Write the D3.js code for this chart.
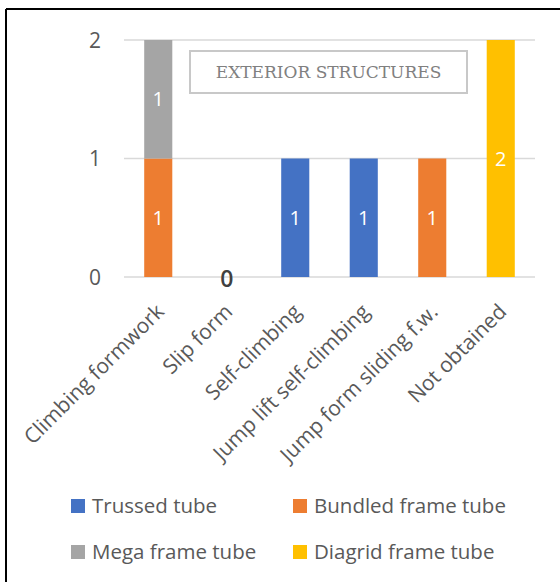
<!DOCTYPE html>
<html><head><meta charset="utf-8">
<script src="https://cdn.jsdelivr.net/npm/d3@7"></script>
<style>html,body{margin:0;padding:0;background:#fff;} svg{display:block;}</style>
</head><body>
<script>
const categories = ["Climbing formwork","Slip form","Self-climbing","Jump lift self-climbing","Jump form sliding f.w.","Not obtained"];
const seriesNames = ["Trussed tube","Bundled frame tube","Mega frame tube","Diagrid frame tube"];
const trussed = [0,0,1,1,0,0];
const bundled = [1,0,0,0,1,0];
const mega = [1,0,0,0,0,0];
const diagrid = [0,0,0,0,0,2];
const yTicks = [0,1,2];
const title = "EXTERIOR STRUCTURES";
const colors = ["#4472C4","#ED7D31","#A5A5A5","#FFC000"];

const W = 560, H = 582;
const svg = d3.select("body").append("svg").attr("width",W).attr("height",H);
svg.append("rect").attr("width",W).attr("height",H).attr("fill","#fff");

const font = "'Open Sans', sans-serif";
const rows = categories.map((c,i)=>({cat:c, "Trussed tube":trussed[i], "Bundled frame tube":bundled[i], "Mega frame tube":mega[i], "Diagrid frame tube":diagrid[i]}));
const stack = d3.stack().keys(seriesNames)(rows);

const x = d3.scaleBand().domain(categories).range([124,535]).paddingInner(0.59).paddingOuter(0.295);
const y = d3.scaleLinear().domain([0,2]).range([277,40]);

// grid
svg.append("g").selectAll("line").data(yTicks).join("line")
  .attr("x1",124).attr("x2",535).attr("y1",d=>y(d)).attr("y2",d=>y(d))
  .attr("stroke","#d9d9d9").attr("stroke-width",1.5);

// y labels
svg.append("g").selectAll("text").data(yTicks).join("text")
  .attr("x",101).attr("y",d=>y(d)).attr("dy","0.36em").attr("text-anchor","end")
  .attr("font-family",font).attr("font-size",21).attr("fill","#595959").text(d=>d);

// bars
const g = svg.append("g");
stack.forEach((s,si)=>{
  g.append("g").selectAll("rect").data(s.filter(d=>d[1]-d[0]>0)).join("rect")
    .attr("x",d=>x(d.data.cat)).attr("width",x.bandwidth())
    .attr("y",d=>y(d[1])).attr("height",d=>y(d[0])-y(d[1]))
    .attr("fill",colors[si]);
  g.append("g").selectAll("text").data(s.filter(d=>d[1]-d[0]>0)).join("text")
    .attr("x",d=>x(d.data.cat)+x.bandwidth()/2).attr("y",d=>(y(d[0])+y(d[1]))/2)
    .attr("dy","0.36em").attr("text-anchor","middle")
    .attr("font-family",font).attr("font-size",20).attr("fill","#fff")
    .text(d=>d[1]-d[0]);
});
// zero-total labels
const totals = rows.map(r=>seriesNames.reduce((a,k)=>a+r[k],0));
svg.append("g").selectAll("text").data(categories.filter((c,i)=>totals[i]===0)).join("text")
  .attr("x",c=>x(c)+x.bandwidth()/2).attr("y",y(0)+1.5).attr("dy","0.36em").attr("text-anchor","middle")
  .attr("font-family",font).attr("font-size",23).attr("font-weight",600).attr("fill","#404040").text(0);

// x labels
svg.append("g").selectAll("text").data(categories).join("text")
  .attr("transform",c=>`translate(${x(c)+x.bandwidth()/2+7},${y(0)+36}) rotate(-45)`)
  .attr("text-anchor","end")
  .attr("font-family",font).attr("font-size",21).attr("fill","#595959").text(c=>c);

// title box
svg.append("rect").attr("x",190).attr("y",51).attr("width",277).attr("height",42)
  .attr("fill","#fff").attr("stroke","#c8c8c8").attr("stroke-width",2);
svg.append("text").attr("x",328.5).attr("y",72).attr("dy","0.35em").attr("text-anchor","middle")
  .attr("font-family","'DejaVu Serif', 'Liberation Serif', serif").attr("font-size",17).attr("fill","#808080").text(title);

// legend
const legPos = [[71,513],[293,513],[71,559],[293,559]];
const leg = svg.append("g").selectAll("g").data(seriesNames).join("g")
  .attr("transform",(d,i)=>`translate(${legPos[i][0]},${legPos[i][1]})`);
leg.append("rect").attr("x",0).attr("y",-14).attr("width",14).attr("height",14).attr("fill",(d,i)=>colors[i]);
leg.append("text").attr("x",21).attr("y",0)
  .attr("font-family",font).attr("font-size",20.5).attr("fill","#595959").text(d=>d);

// border
svg.append("line").attr("x1",6).attr("x2",6).attr("y1",9).attr("y2",H).attr("stroke","#000").attr("stroke-width",2);
svg.append("line").attr("x1",6).attr("x2",W).attr("y1",9).attr("y2",9).attr("stroke","#000").attr("stroke-width",2);
</script>
</body></html>
